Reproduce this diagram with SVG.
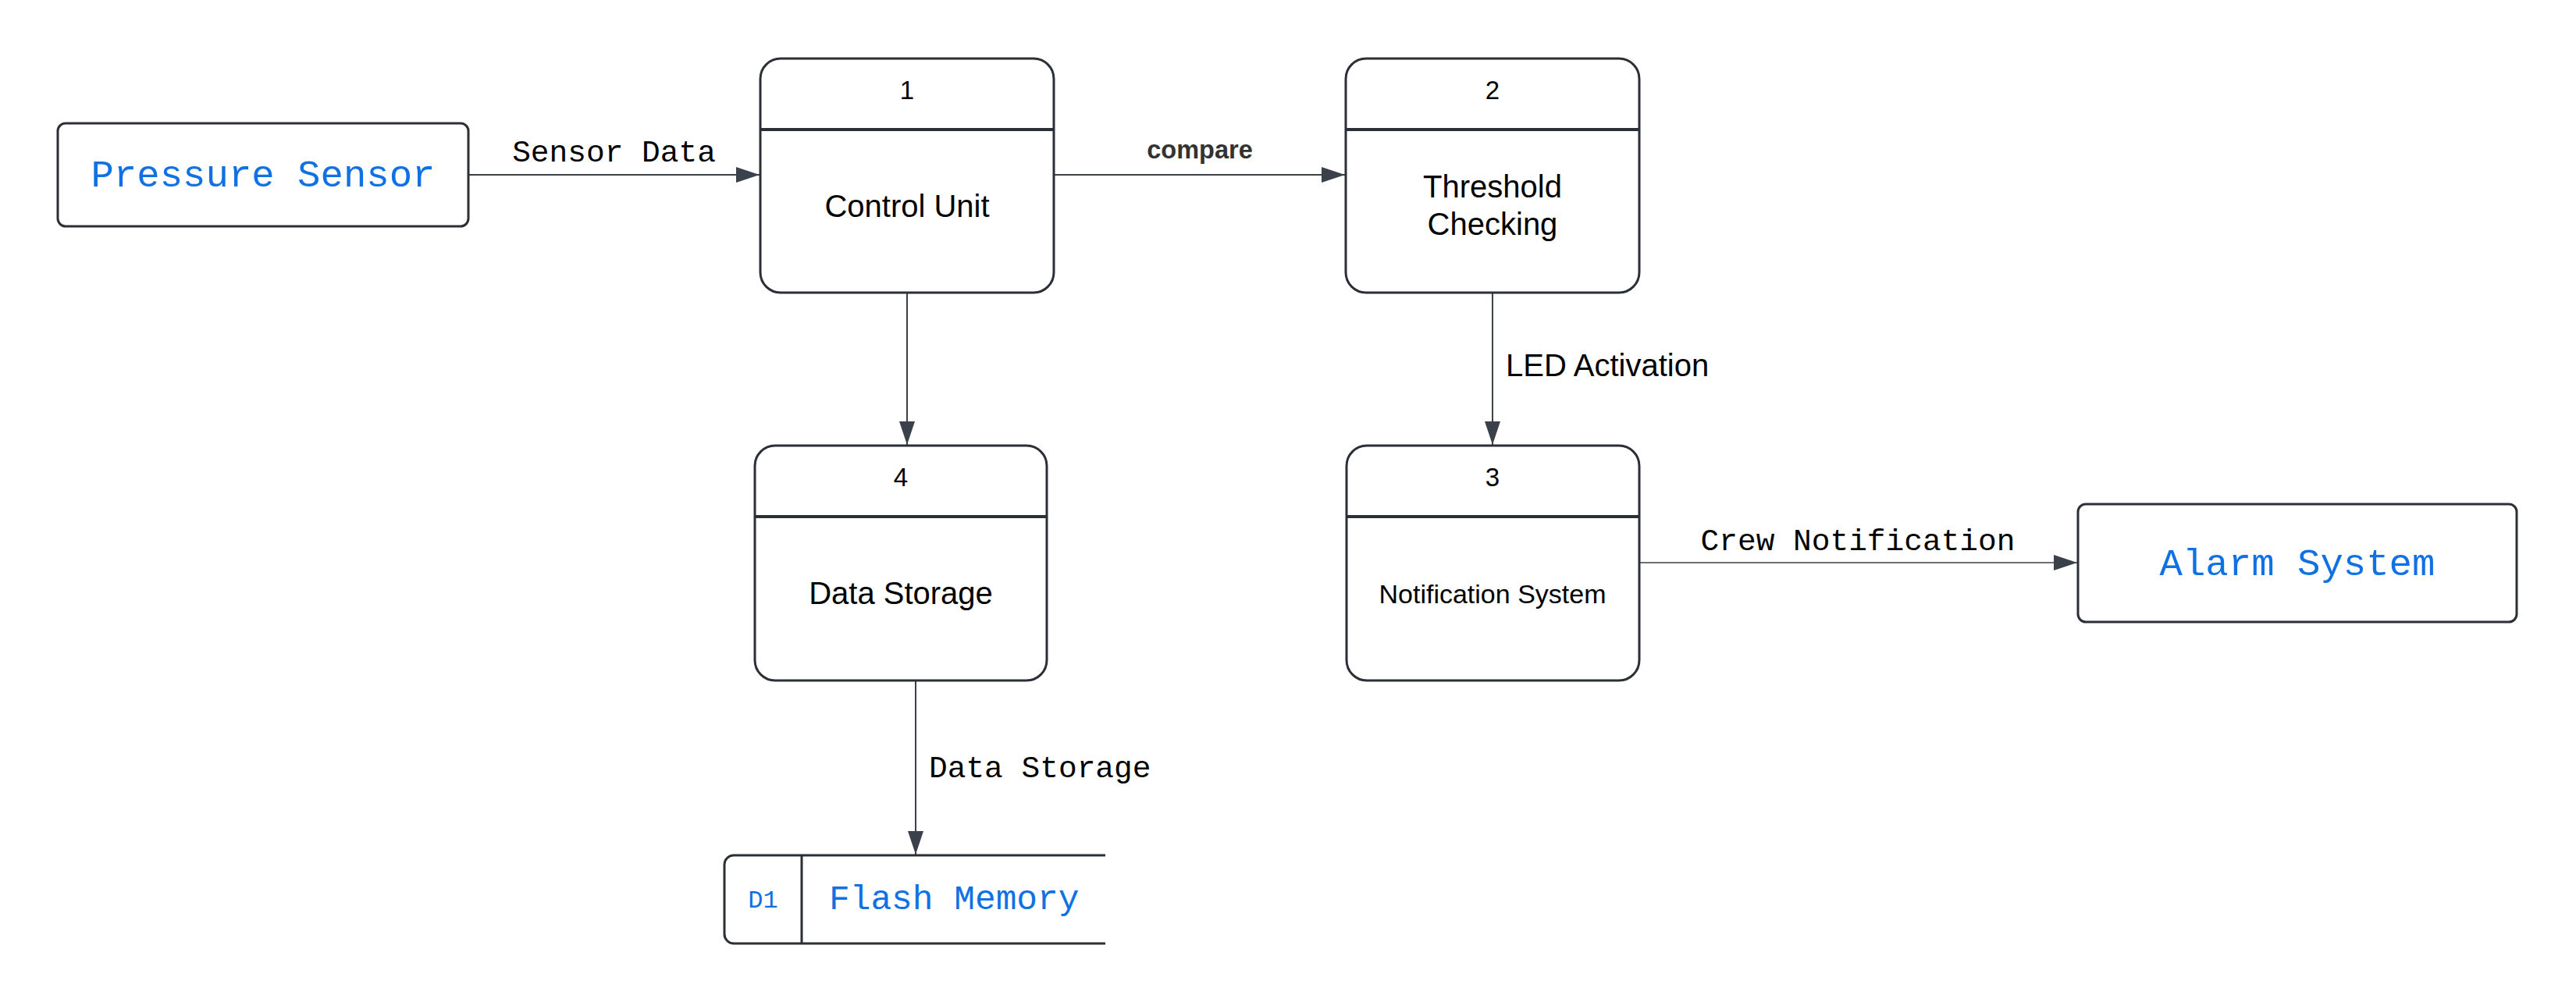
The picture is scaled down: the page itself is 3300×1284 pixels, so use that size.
<svg xmlns="http://www.w3.org/2000/svg" width="3300" height="1284" viewBox="0 0 3300 1284">
  <defs>
    <marker id="arrow" markerUnits="userSpaceOnUse" markerWidth="30" markerHeight="20" refX="30" refY="10" orient="auto">
      <path d="M0,0 L30,10 L0,20 z" fill="#3a414a"/>
    </marker>
    <style>
      .box { fill: #ffffff; stroke: #2b2f36; stroke-width: 3; }
      .div { stroke: #2b2f36; stroke-width: 4; fill: none; }
      .conn { stroke: #3a414a; stroke-width: 2; fill: none; marker-end: url(#arrow); }
      .ent { font-family: "Liberation Mono", "DejaVu Sans Mono", monospace; fill: #1071e5; text-anchor: middle; }
      .mono { font-family: "Liberation Mono", "DejaVu Sans Mono", monospace; font-size: 39.5px; fill: #000000; }
      .sans { font-family: "Liberation Sans", Arial, sans-serif; fill: #000000; text-anchor: middle; }
      .num { font-family: "Liberation Sans", Arial, sans-serif; font-size: 33px; fill: #000000; text-anchor: middle; }
    </style>
  </defs>
  <rect width="3300" height="1284" fill="#ffffff"/>

  <g id="connectors">
    <path class="conn" d="M600 224 H973"/>
    <path class="conn" d="M1350 224 H1723"/>
    <path class="conn" d="M1162 375 V570"/>
    <path class="conn" d="M1912 375 V570"/>
    <path class="conn" d="M2100 721 H2661" style="stroke-width:1.5"/>
    <path class="conn" d="M1173 872 V1095"/>
    <text class="mono" x="786.5" y="207" text-anchor="middle">Sensor Data</text>
    <text x="1537" y="203" font-family="Liberation Sans, Arial, sans-serif" font-size="32.5" font-weight="bold" fill="#333333" text-anchor="middle">compare</text>
    <text x="1929" y="482" font-family="Liberation Sans, Arial, sans-serif" font-size="40" fill="#000000">LED Activation</text>
    <text class="mono" x="2380" y="705" text-anchor="middle">Crew Notification</text>
    <text class="mono" x="1190" y="996">Data Storage</text>
  </g>

  <g id="pressure-sensor">
    <rect class="box" x="74" y="158" width="526" height="132" rx="10"/>
    <text class="ent" x="337" y="239" font-size="49">Pressure Sensor</text>
  </g>

  <g id="control-unit">
    <rect class="box" x="974" y="75" width="376" height="300" rx="26"/>
    <line class="div" x1="974" y1="166" x2="1350" y2="166"/>
    <text class="num" x="1162" y="127">1</text>
    <text class="sans" x="1162" y="278" font-size="40">Control Unit</text>
  </g>

  <g id="threshold-checking">
    <rect class="box" x="1724" y="75" width="376" height="300" rx="26"/>
    <line class="div" x1="1724" y1="166" x2="2100" y2="166"/>
    <text class="num" x="1912" y="127">2</text>
    <text class="sans" x="1912" y="253" font-size="40">Threshold</text>
    <text class="sans" x="1912" y="301" font-size="40">Checking</text>
  </g>

  <g id="notification-system">
    <rect class="box" x="1725" y="571" width="375" height="301" rx="26"/>
    <line class="div" x1="1725" y1="662" x2="2100" y2="662"/>
    <text class="num" x="1912" y="623">3</text>
    <text class="sans" x="1912" y="773" font-size="34">Notification System</text>
  </g>

  <g id="data-storage">
    <rect class="box" x="967" y="571" width="374" height="301" rx="26"/>
    <line class="div" x1="967" y1="662" x2="1341" y2="662"/>
    <text class="num" x="1154" y="623">4</text>
    <text class="sans" x="1154" y="774" font-size="40">Data Storage</text>
  </g>

  <g id="alarm-system">
    <rect class="box" x="2662" y="646" width="562" height="151" rx="10"/>
    <text class="ent" x="2943" y="737" font-size="49">Alarm System</text>
  </g>

  <g id="flash-memory">
    <path d="M1416 1096 H940 A12 12 0 0 0 928 1108 V1197 A12 12 0 0 0 940 1209 H1416" fill="#ffffff" stroke="#2b2f36" stroke-width="3"/>
    <line x1="1027" y1="1096" x2="1027" y2="1209" stroke="#2b2f36" stroke-width="3"/>
    <text class="ent" x="977.5" y="1163" font-size="32">D1</text>
    <text class="ent" x="1062" y="1165" font-size="44.5" style="text-anchor:start">Flash Memory</text>
  </g>
</svg>
